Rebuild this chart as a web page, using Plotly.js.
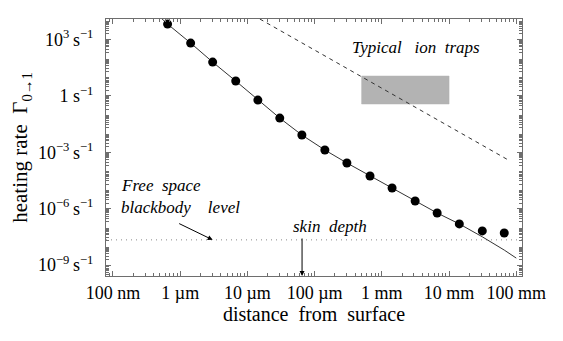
<!DOCTYPE html>
<html>
<head>
<meta charset="utf-8">
<script src="https://cdn.plot.ly/plotly-3.0.1.min.js"></script>
<style>html,body{margin:0;padding:0;background:#fff;}</style>
</head>
<body>
<div id="chart" style="width:563px;height:341px;"></div>
<script>
// distance from surface (m) of the computed points
const dist = [6.49e-7, 1.43e-6, 3.04e-6, 6.70e-6, 1.43e-5, 3.03e-5, 6.46e-5, 1.42e-4, 3.02e-4, 6.67e-4, 1.42e-3, 3.13e-3, 6.65e-3, 1.42e-2, 3.12e-2, 6.62e-2];
// heating rate (s^-1) of the computed points
const rate = [6610, 646, 63, 6.2, 0.60, 0.066, 0.0083, 1.32e-3, 2.7e-4, 5.5e-5, 1.26e-5, 2.57e-6, 5.9e-7, 1.55e-7, 6.6e-8, 5.1e-8];
// analytic curve (solid line)
const curveX = [5.3e-7, 6.49e-7, 1.43e-6, 3.04e-6, 6.70e-6, 1.43e-5, 3.03e-5, 6.46e-5, 1.42e-4, 3.02e-4, 6.67e-4, 1.42e-3, 3.13e-3, 6.65e-3, 1.42e-2, 3.12e-2, 6.62e-2, 0.1];
const curveY = [1.3e4, 6610, 646, 63, 6.2, 0.60, 0.066, 0.0083, 1.32e-3, 2.7e-4, 5.5e-5, 1.26e-5, 2.57e-6, 5.9e-7, 1.55e-7, 3.2e-8, 6.3e-9, 2.35e-9];
// dashed line
const dashX = [1.53e-5, 0.076];
const dashY = [1.23e4, 3.9e-4];
// typical ion traps box
const trapX = [5e-4, 1e-2];
const trapY = [0.37, 11.4];
// free-space blackbody level
const bbLevel = 2.2e-8;
// skin depth
const skinDepth = 6.5e-5;
// axis ranges (log10)
const xRange = [-7.104, -0.915];
const yRange = [-9.58, 4.09];
// ticks
const xTickVals = [1e-7, 1e-6, 1e-5, 1e-4, 1e-3, 1e-2, 1e-1];
const xTickText = ['100 nm', '1 \u00b5m', '10 \u00b5m', '100 \u00b5m', '1 mm', '10 mm', '100 mm'];
const yTickVals = [1e3, 1, 1e-3, 1e-6, 1e-9];
const yTickText = ['10<sup>3</sup>\u202fs<sup>\u22121</sup>', '1 s<sup>\u22121</sup>', '10<sup>\u22123</sup>\u202fs<sup>\u22121</sup>', '10<sup>\u22126</sup>\u202fs<sup>\u22121</sup>', '10<sup>\u22129</sup>\u202fs<sup>\u22121</sup>'];

function minorTicks(lo, hi) {
  const out = [];
  for (let e = Math.floor(lo); e <= Math.ceil(hi); e++) {
    for (let k = 2; k <= 9; k++) out.push(k * Math.pow(10, e));
  }
  return out;
}

const serif = '"Liberation Serif", serif';
const axisCol = '#6e6e6e';

const traces = [
  {x: [trapX[0], trapX[1], trapX[1], trapX[0], trapX[0]], y: [trapY[0], trapY[0], trapY[1], trapY[1], trapY[0]],
   mode: 'lines', fill: 'toself', fillcolor: '#b3b3b3', line: {width: 0.5, color: '#b3b3b3'}, hoverinfo: 'skip'},
  {x: [Math.pow(10, xRange[0]), Math.pow(10, xRange[1])], y: [bbLevel, bbLevel], mode: 'lines',
   line: {color: '#888', width: 1, dash: '1px,4px'}},
  {x: dashX, y: dashY, mode: 'lines', line: {color: '#333', width: 1, dash: '4px,4px'}},
  {x: curveX, y: curveY, mode: 'lines', line: {color: '#333', width: 1}},
  {x: dist, y: rate, mode: 'markers', marker: {color: '#000', size: 9}}
];

const annFont = {family: serif, size: 17, color: '#000'};
const layout = {
  width: 563, height: 341,
  margin: {l: 106, r: 41, t: 19, b: 65},
  paper_bgcolor: '#fff', plot_bgcolor: '#fff',
  showlegend: false,
  xaxis: {
    type: 'log', range: xRange, showgrid: false, zeroline: false,
    showline: true, linecolor: axisCol, linewidth: 1, mirror: 'allticks',
    ticks: 'inside', ticklen: 5, tickcolor: axisCol,
    tickmode: 'array', tickvals: xTickVals, ticktext: xTickText,
    tickfont: {family: serif, size: 18, color: '#000'},
    minor: {tickmode: 'array', tickvals: minorTicks(-8, 0), ticks: 'inside', ticklen: 3, tickcolor: axisCol, showgrid: false},
    title: {text: 'distance\u00a0 from\u00a0 surface', font: {family: serif, size: 20, color: '#000'}, standoff: 0}
  },
  yaxis: {
    type: 'log', range: yRange, showgrid: false, zeroline: false,
    showline: true, linecolor: axisCol, linewidth: 1, mirror: 'allticks',
    ticks: 'inside', ticklen: 5, tickcolor: axisCol,
    tickmode: 'array', tickvals: yTickVals, ticktext: yTickText,
    tickfont: {family: serif, size: 18, color: '#000'},
    ticklabelstandoff: 8,
    minor: {tickmode: 'array', tickvals: minorTicks(-11, 5), ticks: 'inside', ticklen: 3, tickcolor: axisCol, showgrid: false},
    title: {text: 'heating rate\u00a0 \u0393<sub>0\u21921</sub>', font: {family: serif, size: 21, color: '#000'}, standoff: 4}
  },
  annotations: [
    {x: -3.48, y: 2.6, xref: 'x', yref: 'y', xanchor: 'left', yanchor: 'middle',
     text: '<i>Typical\u00a0\u00a0 ion\u00a0 traps</i>', showarrow: false, font: annFont},
    {x: xRange[0] + 0.2, y: Math.log10(bbLevel) + 2.87, xref: 'x', yref: 'y', xanchor: 'left', yanchor: 'middle',
     text: '<i>Free\u00a0 space</i>', showarrow: false, font: annFont},
    {x: xRange[0] + 0.2, y: Math.log10(bbLevel) + 1.70, xref: 'x', yref: 'y', xanchor: 'left', yanchor: 'middle',
     text: '<i>blackbody\u00a0\u00a0\u00a0 level</i>', showarrow: false, font: annFont},
    {x: -5.517, y: Math.log10(bbLevel), xref: 'x', yref: 'y', ax: -35, ay: -17, showarrow: true,
     arrowhead: 2, arrowsize: 1, arrowwidth: 1, arrowcolor: '#000', text: ''},
    {x: Math.log10(skinDepth), y: yRange[0], xref: 'x', yref: 'y', ax: 0, ay: -39, showarrow: true,
     arrowhead: 2, arrowsize: 1, arrowwidth: 1, arrowcolor: '#000', text: ''},
    {x: Math.log10(skinDepth) - 0.17, y: Math.log10(bbLevel) + 0.7, xref: 'x', yref: 'y', xanchor: 'left', yanchor: 'middle',
     text: '<i>skin\u00a0 depth</i>', showarrow: false, font: annFont}
  ]
};

Plotly.newPlot('chart', traces, layout, {staticPlot: true, displayModeBar: false});
</script>
</body>
</html>
